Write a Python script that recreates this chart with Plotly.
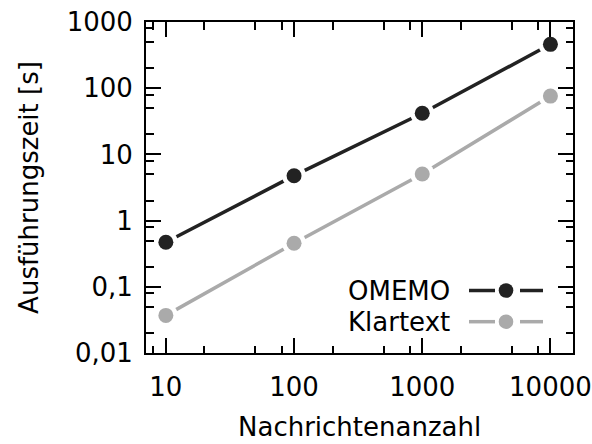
import plotly.graph_objects as go

# ---- data ----
nachrichten = [10, 100, 1000, 10000]
omemo = [0.47, 4.77, 41.8, 460]
klartext = [0.037, 0.454, 5.06, 76]

x_tickvals = [10, 100, 1000, 10000]
x_ticktext = ["10", "100", "1000", "10000"]
y_tickvals = [0.01, 0.1, 1, 10, 100, 1000]
y_ticktext = ["0,01", "0,1", "1", "10", "100", "1000"]
x_minor = [8, 20, 50, 80, 200, 500, 800, 2000, 5000, 8000]
y_minor = [m * d for d in [0.01, 0.1, 1, 10, 100] for m in (2, 5, 8)]

series = [("OMEMO", omemo, "#222222"), ("Klartext", klartext, "#aaaaaa")]

FONT = "DejaVu Sans"
FS = 26

fig = go.Figure()
for name, vals, col in series:
    fig.add_trace(go.Scatter(x=nachrichten, y=vals, mode="lines",
                             line=dict(color=col, width=3.5), showlegend=False))
    fig.add_trace(go.Scatter(x=nachrichten, y=vals, mode="markers",
                             marker=dict(color="white", size=24), showlegend=False,
                             hoverinfo="skip"))
    fig.add_trace(go.Scatter(x=nachrichten, y=vals, mode="markers",
                             marker=dict(color=col, size=15), name=name, showlegend=False))

axis_common = dict(
    showline=True, linecolor="black", linewidth=2, mirror="ticks",
    ticks="inside", ticklen=15, tickwidth=2, tickcolor="black",
    showgrid=False, zeroline=False, automargin=False,
    tickfont=dict(family=FONT, size=FS, color="black"),
)

fig.update_xaxes(type="log", range=[0.8451, 4.1761], tickmode="array",
                 tickvals=x_tickvals, ticktext=x_ticktext,
                 minor=dict(tickmode="array", tickvals=x_minor, ticks="inside",
                            ticklen=7.5, tickwidth=2, tickcolor="black", showgrid=False),
                 ticklabelstandoff=10,
                 **axis_common)
fig.update_yaxes(type="log", range=[-2, 3], tickmode="array",
                 tickvals=y_tickvals, ticktext=y_ticktext,
                 minor=dict(tickmode="array", tickvals=y_minor, ticks="inside",
                            ticklen=7.5, tickwidth=2, tickcolor="black", showgrid=False),
                 title=dict(text="Ausführungszeit [s]", font=dict(family=FONT, size=FS, color="black"),
                            standoff=21),
                 ticklabelstandoff=6,
                 **axis_common)

# x-axis title placed as annotation (kept fully inside the page)
fig.add_annotation(x=0.5, y=-0.2236, xref="paper", yref="paper", text="Nachrichtenanzahl",
                   showarrow=False, xanchor="center", yanchor="middle", borderpad=0,
                   font=dict(family=FONT, size=FS, color="black"))

# ---- legend (gnuplot style: text left, sample right) ----
pw, ph = 427.0, 331.0
rows = [(0.1888, series[0]), (0.0946, series[1])]
for yy, (name, vals, col) in rows:
    fig.add_annotation(x=0.7166, y=yy, xref="paper", yref="paper", text=name,
                       showarrow=False, xanchor="right", yanchor="middle",
                       font=dict(family=FONT, size=FS, color="black"))
    for x0, x1 in [(0.7564, 0.8173), (0.8759, 0.9297)]:
        fig.add_shape(type="line", xref="paper", yref="paper", x0=x0, x1=x1, y0=yy, y1=yy,
                      line=dict(color=col, width=3.5))
    rx, ry = 7.3 / pw, 7.3 / ph
    fig.add_shape(type="circle", xref="paper", yref="paper",
                  x0=0.8431 - rx, x1=0.8431 + rx, y0=yy - ry, y1=yy + ry,
                  fillcolor=col, line=dict(width=0))

fig.update_layout(
    width=592, height=444,
    margin=dict(l=146, r=19, t=22, b=91),
    paper_bgcolor="white", plot_bgcolor="white",
    font=dict(family=FONT, size=FS, color="black"),
    showlegend=False,
)

fig.write_html("out.html")
